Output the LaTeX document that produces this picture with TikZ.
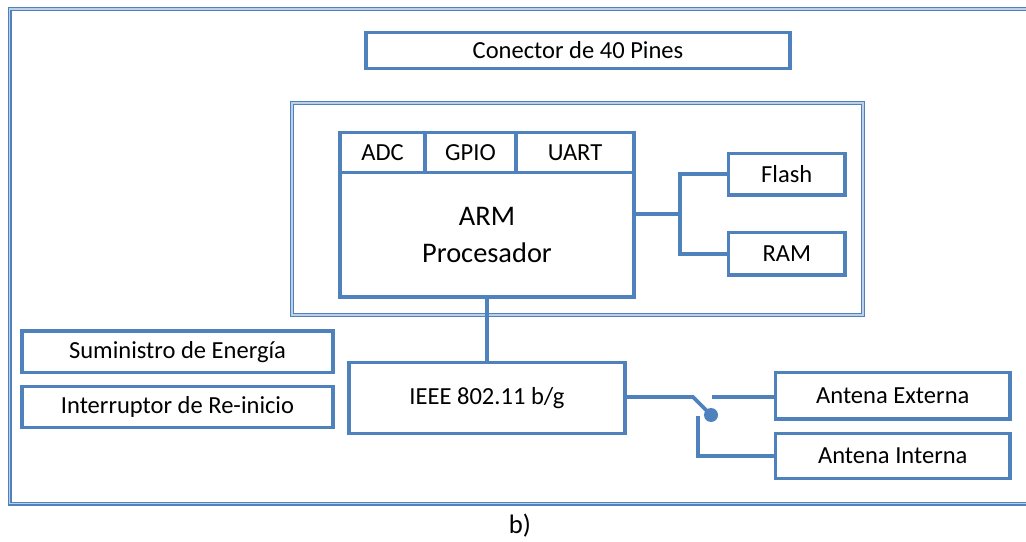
\documentclass[tikz,border=0pt]{standalone}
\usepackage{fontspec}
\setmainfont{Carlito}
\definecolor{bordeazul}{RGB}{79,129,189}
\definecolor{marcoclaro}{RGB}{190,208,232}

\begin{document}
\begin{tikzpicture}[x=0.75pt,y=-0.75pt,line join=miter,
        caja/.style={draw=bordeazul,line width=2.8pt,rectangle,inner sep=0pt,
            outer sep=0pt,align=center,font=\fontsize{18.4}{22}\selectfont},
        conexion/.style={draw=bordeazul,line width=2.8pt},
        marco/.style={draw=bordeazul,double=marcoclaro,line width=1.1pt,
            double distance=0.8pt}]
        \clip (0,0) rectangle (1026,542);

        % Marcos dobles
        \draw[marco] (9.5,9) rectangle (1040,503.5);
        \draw[marco] (292,103) rectangle (863,315);

        % Conector superior
        \node[caja,minimum width=318pt,minimum height=27pt] (pines) at (578,50.5)
            {Conector de 40 Pines};

        % Procesador con sus perifericos
        \node[caja,minimum width=63.75pt,minimum height=30pt] (adc) at (382.5,152.5) {ADC};
        \node[caja,minimum width=68.25pt,minimum height=30pt] (gpio) at (470.5,152.5) {GPIO};
        \node[caja,minimum width=88.5pt,minimum height=30pt] (uart) at (575,152.5) {UART};
        \node[caja,minimum width=220.5pt,minimum height=93.4pt,
            font=\fontsize{21.3}{28}\selectfont] (cpu) at (487,234.75)
            {ARM\\Procesador};

        % Memorias
        \node[caja,minimum width=87.4pt,minimum height=31.1pt] (flash) at (786.75,174.25) {Flash};
        \node[caja,minimum width=87.4pt,minimum height=31.9pt] (ram) at (786.75,253.75) {RAM};
        \coordinate (bus) at (680,214);
        \draw[conexion] (bus -| cpu.east) -- (bus);
        \draw[conexion] (flash.west) -| (bus) |- (ram.west);

        % Alimentacion y reinicio
        \node[caja,minimum width=233.25pt,minimum height=31.1pt] (energia) at (177.5,351.75)
            {Suministro de Energía};
        \node[caja,minimum width=233.25pt,minimum height=30.75pt] (reinicio) at (177.5,407)
            {Interruptor de Re-inicio};

        % Modulo inalambrico
        \node[caja,minimum width=207pt,minimum height=53.25pt] (ieee) at (487,398)
            {IEEE 802.11 b/g};
        \draw[conexion] (cpu.south) -- (ieee.north);

        % Conmutador de antenas
        \node[caja,minimum width=175.9pt,minimum height=34.9pt] (externa) at (892.75,395.75)
            {Antena Externa};
        \node[caja,minimum width=175.9pt,minimum height=33.75pt] (interna) at (892.75,456)
            {Antena Interna};
        \node[circle,fill=bordeazul,inner sep=0pt,minimum size=10.5pt] (sw) at (711,415) {};
        \coordinate (conm) at (693,397);
        \coordinate (salida) at (712,397);
        \coordinate (baja) at (698,416);
        \draw[conexion] (ieee.east |- conm) -- (conm) -- (sw.center);
        \draw[conexion] (salida) -- (salida -| externa.west);
        \draw[conexion] (baja) |- (interna.west);

        \node[font=\fontsize{20}{24}\selectfont] (rotulo) at (520,526) {b)};
    \end{tikzpicture}
\end{document}
